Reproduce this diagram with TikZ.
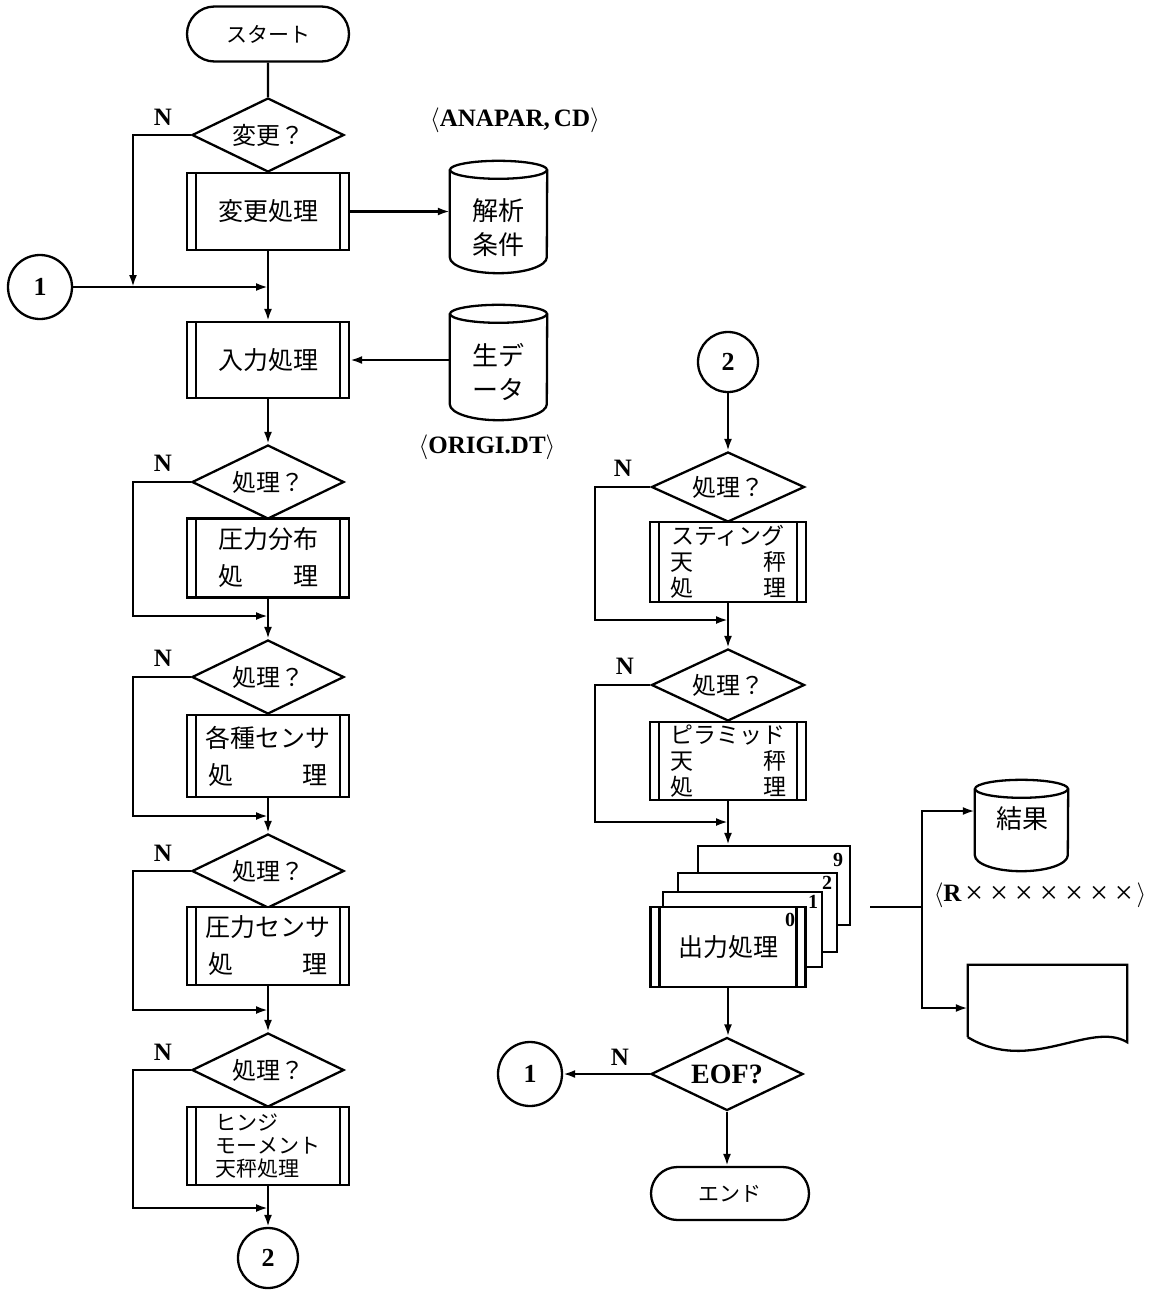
\documentclass[tikz,border=0pt]{standalone}
\usepackage{fontspec}
\setmainfont{Liberation Serif}
\newfontfamily\jp{Noto Sans CJK JP}
\usetikzlibrary{shapes.geometric,shapes.misc,arrows.meta,calc}
\newcommand\drawcyl[2]{%
  \draw[lw] (#1.north west) -- (#1.south west)
     arc[start angle=180,end angle=0,x radius=#2,y radius=16] -- (#1.north east);
  \draw[lw] (#1.north) ellipse[x radius=#2,y radius=9];}
\newcommand\xx{\makebox[25pt]{\raisebox{-2.5pt}{\mdseries\fontsize{32}{32}\selectfont ×}}}
\tikzset{
 lw/.style={line width=2.3pt},
 arr/.style={line width=2.3pt,-{Latex[length=12pt,width=8pt]}},
 term/.style={draw,lw,rounded rectangle,minimum width=162pt,minimum height=55pt,inner sep=0pt,font=\jp\fontsize{21}{25}\selectfont},
 dec/.style={draw,lw,diamond,aspect=2,inner sep=0pt,minimum width=152pt,minimum height=74pt,font=\jp\fontsize{24}{28}\selectfont},
 pre/.style={draw,lw,fill=white,rectangle,inner sep=0pt,minimum width=162pt,align=center,font=\jp\fontsize{25}{37}\selectfont,
   path picture={\draw[lw] ([xshift=9pt]path picture bounding box.north west) -- ([xshift=9pt]path picture bounding box.south west);
                 \draw[lw] ([xshift=-9pt]path picture bounding box.north east) -- ([xshift=-9pt]path picture bounding box.south east);}},
 plain/.style={draw,lw,fill=white,rectangle,inner sep=0pt},
 conn/.style={draw,lw,circle,inner sep=0pt,minimum size=62pt,font=\bfseries\fontsize{26}{30}\selectfont},
 lab/.style={inner sep=0pt,font=\bfseries\fontsize{25}{30}\selectfont},
 num/.style={inner sep=0pt,font=\bfseries\fontsize{20}{22}\selectfont},
 body/.style={draw=none,rectangle,inner sep=0pt},
 cyltext/.style={inner sep=0pt,align=center,font=\jp\fontsize{26}{34}\selectfont},
}
\begin{document}
\begin{tikzpicture}[x=1pt,y=-1pt]
\fill[white] (0,0) rectangle (1152,1294);
\useasboundingbox (0,0) rectangle (1152,1294);

% ---------- left column ----------
\node[term] (start) at (268,34) {スタート};
\node[dec] (d0) at (268,135) {変更？};
\node[pre,minimum height=77pt] (b0) at (268,211.5) {変更処理};
\node[body,minimum width=97pt,minimum height=87pt] (cy1) at (498.5,213.5) {};
\drawcyl{cy1}{48.5}
\node[cyltext] (t1) at (498.5,227.5) {解析\\条件};
\node[lab] (l1) at (515,120) {$\langle$ANAPAR,\,CD$\rangle$};
\node[conn,minimum size=64pt] (c1) at (40,287) {1};
\coordinate (j0) at (268,287);
\coordinate (k0) at (133,287);
\node[pre,minimum height=76pt] (b1) at (268,360) {入力処理};
\node[body,minimum width=97pt,minimum height=90pt] (cy2) at (498.5,359) {};
\drawcyl{cy2}{48.5}
\node[cyltext] (t2) at (498.5,371.5) {生デ\\ータ};
\node[lab] (l2) at (487,447) {$\langle$ORIGI.DT$\rangle$};

\node[dec] (d1) at (268,482) {処理？};
\node[pre,minimum height=79pt] (b2) at (268,558) {圧力分布\\\makebox[100pt]{処\hfill 理}};
\coordinate (j1) at (268,616); \coordinate (k1) at (133,616);
\node[dec] (d2) at (268,677) {処理？};
\node[pre,minimum height=82pt] (b3) at (268,756) {各種センサ\\\makebox[120pt]{処\hfill 理}};
\coordinate (j2) at (268,816); \coordinate (k2) at (133,816);
\node[dec] (d3) at (268,871) {処理？};
\node[pre,minimum height=78pt] (b4) at (268,946) {圧力センサ\\\makebox[120pt]{処\hfill 理}};
\coordinate (j3) at (268,1010); \coordinate (k3) at (133,1010);
\node[dec] (d4) at (268,1070) {処理？};
\node[pre,minimum height=78pt,align=left,font=\jp\fontsize{21}{23}\selectfont] (b5) at (268,1146) {ヒンジ\\モーメント\\天秤処理};
\coordinate (j4) at (268,1208); \coordinate (k4) at (133,1208);
\node[conn,minimum size=60pt] (c2b) at (268,1258) {2};

\node[lab] (n0) at (163,117) {N};
\node[lab] (n1) at (163,463) {N};
\node[lab] (n2) at (163,658) {N};
\node[lab] (n3) at (163,853) {N};
\node[lab] (n4) at (163,1052) {N};

% ---------- right column ----------
\node[conn,minimum size=60pt] (c2) at (728,362) {2};
\node[dec,minimum width=153pt,minimum height=70pt] (e1) at (728,487) {処理？};
\node[pre,minimum width=156pt,minimum height=80pt,font=\jp\fontsize{23}{26}\selectfont] (r1) at (728,562) {スティング\\\makebox[116pt]{天\hfill 秤}\\\makebox[116pt]{処\hfill 理}};
\coordinate (jR1) at (728,620); \coordinate (kR1) at (595,620);
\node[dec,minimum width=153pt,minimum height=72pt] (e2) at (728,685) {処理？};
\node[pre,minimum width=156pt,minimum height=78pt,font=\jp\fontsize{23}{26}\selectfont] (r2) at (728,761) {ピラミッド\\\makebox[116pt]{天\hfill 秤}\\\makebox[116pt]{処\hfill 理}};
\coordinate (jR2) at (728,822); \coordinate (kR2) at (595,822);
\node[lab] (n5) at (623,468) {N};
\node[lab] (n6) at (625,666) {N};

\node[plain,minimum width=152pt,minimum height=79pt] (o9) at (774,885.5) {};
\node[plain,minimum width=159pt,minimum height=79pt] (o2) at (757.5,912.5) {};
\node[plain,minimum width=159pt,minimum height=75pt] (o1) at (742.5,929.5) {};
\node[pre,minimum width=155pt,minimum height=80pt] (o0) at (728,947) {出力処理};
\node[num] (m9) at (838,860) {9};
\node[num] (m2) at (827,883) {2};
\node[num] (m1) at (813,902) {1};
\node[num] (m0) at (790,920) {0};

\node[dec,minimum width=152pt,minimum height=73pt,font=\bfseries\fontsize{28}{30}\selectfont] (eof) at (727,1074) {EOF?};
\node[conn,minimum size=64pt] (c1b) at (530,1074) {1};
\node[lab] (n7) at (620,1057) {N};
\node[term,minimum width=158pt,minimum height=53pt] (end) at (730,1193.5) {エンド};

% ---------- outputs ----------
\coordinate (oc) at (870,907); \coordinate (oj) at (922,907);
\node[body,minimum width=93pt,minimum height=66pt] (cy3) at (1021.5,822) {};
\drawcyl{cy3}{46.5}
\node[cyltext] (t3) at (1022,819) {結果};
\node[lab] (l3) at (1040,895) {$\langle$R\xx\xx\xx\xx\xx\xx\xx$\rangle$};
\node[body,minimum width=159pt,minimum height=72pt] (doc) at (1047.5,1001) {};
\draw[lw] (doc.south west) -- (doc.north west) -- (doc.north east) -- ($(doc.south east)+(0,5)$)
   .. controls (1090,1020) and (1030,1075) .. (doc.south west);

% ---------- connectors ----------
\draw[lw] (start) -- (d0);
\draw[lw] (d0) -- (b0);
\draw[arr] (b0.east) -- (b0.east -| cy1.west);
\draw[arr] (d0.west) -| (k0);
\draw[arr] (c1) -- (j0);
\draw[arr] (b0) -- (b1);
\draw[arr] (cy2.west |- b1.east) -- (b1.east);
\draw[arr] (b1) -- (d1);
\draw[arr] (d1.west) -| (k1) -- (j1);
\draw[arr] (b2) -- (d2);
\draw[arr] (d2.west) -| (k2) -- (j2);
\draw[arr] (b3) -- (d3);
\draw[arr] (d3.west) -| (k3) -- (j3);
\draw[arr] (b4) -- (d4);
\draw[arr] (d4.west) -| (k4) -- (j4);
\draw[arr] (b5) -- (c2b);

\draw[arr] (c2) -- (e1);
\draw[arr] (e1.west) -| (kR1) -- (jR1);
\draw[arr] (r1) -- (e2);
\draw[arr] (e2.west) -| (kR2) -- (jR2);
\draw[arr] (r2.south) -- (r2.south |- o9.north);
\draw[arr] (o0.south) -- (o0.south |- eof.north);
\draw[arr] (eof) -- (c1b);
\draw[arr] (eof.south) -- (eof.south |- end.north);
\draw[lw] (oc) -- (oj);
\draw[arr] (oj) |- ($(cy3.west)+(0,-11)$);
\draw[arr] (oj) |- ($(doc.west)+(0,7)$);
\end{tikzpicture}
\end{document}
